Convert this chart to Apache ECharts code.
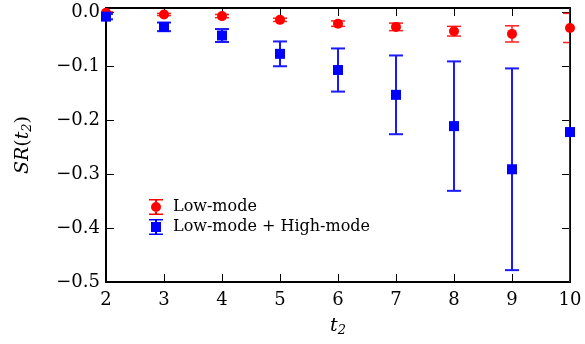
<!DOCTYPE html>
<html>
<head>
<meta charset="utf-8">
<script src="https://cdn.jsdelivr.net/npm/echarts@6/dist/echarts.min.js"></script>
<style>
html,body{margin:0;padding:0;background:#fff;}
#chart{width:585px;height:344px;}
</style>
</head>
<body>
<div id="chart"></div>
<script>
// Data
var tValues = [2, 3, 4, 5, 6, 7, 8, 9, 10];
var lowMode = [-0.001, -0.004, -0.007, -0.014, -0.021, -0.027, -0.035, -0.040, -0.029];
var lowModeErr = [0.002, 0.002, 0.003, 0.003, 0.005, 0.007, 0.009, 0.015, 0.027];
var fullMode = [-0.008, -0.027, -0.043, -0.077, -0.107, -0.153, -0.211, -0.291, -0.222];
var fullModeErr = [0.005, 0.008, 0.012, 0.023, 0.040, 0.073, 0.120, 0.187, 0.35];
var seriesNames = ['Low-mode', 'Low-mode + High-mode'];

var FONT = '"DejaVu Serif", "Liberation Serif", serif';

function pts(vals) { return tValues.map(function (t, i) { return [t, vals[i]]; }); }
function errData(vals, errs) {
  return tValues.map(function (t, i) { return [t, vals[i] - errs[i], vals[i] + errs[i]]; });
}
function errRender(color, lw) {
  return function (params, api) {
    var x = api.value(0);
    var lo = api.coord([x, api.value(1)]);
    var hi = api.coord([x, api.value(2)]);
    var hw = 7;
    var st = { stroke: color, lineWidth: lw };
    return {
      type: 'group',
      children: [
        { type: 'line', shape: { x1: lo[0], y1: lo[1], x2: hi[0], y2: hi[1] }, style: st },
        { type: 'line', shape: { x1: lo[0] - hw, y1: lo[1], x2: lo[0] + hw, y2: lo[1] }, style: st },
        { type: 'line', shape: { x1: hi[0] - hw, y1: hi[1], x2: hi[0] + hw, y2: hi[1] }, style: st }
      ]
    };
  };
}

var redIcon = 'path://M0,0H14V1.5H0Z M0,14.5H14V16H0Z M6,1.5H8V3H6Z M6,13H8V14.5H6Z M2,8A5,5 0 1,1 12,8A5,5 0 1,1 2,8Z';
var blueIcon = 'path://M0,0H14V1.5H0Z M0,14.5H14V16H0Z M6,1.5H8V3H6Z M6,13H8V14.5H6Z M2,3H12V13H2Z';

var axisCommon = {
  axisLine: { show: true, onZero: false, lineStyle: { color: '#000', width: 2 } },
  axisTick: { show: true, inside: true, length: 8, lineStyle: { color: '#000', width: 1 } },
  splitLine: { show: false }
};

var chart = echarts.init(document.getElementById('chart'), null, { renderer: 'canvas' });
chart.setOption({
  animation: false,
  backgroundColor: '#fff',
  grid: { left: 106, right: 15, top: 8, bottom: 62, containLabel: false },
  xAxis: [
    Object.assign({}, axisCommon, {
      type: 'value', min: 2, max: 10, interval: 1, position: 'bottom',
      axisLabel: { color: '#000', fontFamily: FONT, fontSize: 18, margin: 9 },
      name: '{i|t}{s|2}', nameLocation: 'middle', nameGap: 34,
      nameTextStyle: {
        rich: {
          i: { fontFamily: FONT, fontStyle: 'italic', fontSize: 19, color: '#000' },
          s: { fontFamily: FONT, fontStyle: 'italic', fontSize: 13, color: '#000', verticalAlign: 'bottom', padding: [8, 0, 0, 0] }
        }
      }
    }),
    Object.assign({}, axisCommon, {
      type: 'value', min: 2, max: 10, interval: 1, position: 'top',
      axisLabel: { show: false }
    })
  ],
  yAxis: [
    Object.assign({}, axisCommon, {
      type: 'value', min: -0.5, max: 0.008, interval: 0.1, position: 'left',
      axisLabel: {
        color: '#000', fontFamily: FONT, fontSize: 18, margin: 6,
        formatter: function (v) { return (v < -1e-9 ? '\u2212' : '') + Math.abs(v).toFixed(1); }
      },
      name: '{i|SR}{n|(}{i|t}{s|2}{n|)}', nameLocation: 'middle', nameGap: 72, nameRotate: 90,
      nameTextStyle: {
        rich: {
          i: { fontFamily: FONT, fontStyle: 'italic', fontSize: 19, color: '#000' },
          n: { fontFamily: FONT, fontSize: 19, color: '#000' },
          s: { fontFamily: FONT, fontStyle: 'italic', fontSize: 13, color: '#000', verticalAlign: 'bottom', padding: [8, 0, 0, 0] }
        }
      }
    }),
    Object.assign({}, axisCommon, {
      type: 'value', min: -0.5, max: 0.008, interval: 0.1, position: 'right',
      axisLabel: { show: false }
    })
  ],
  legend: {
    left: 144, top: 194, orient: 'vertical', itemWidth: 14, itemHeight: 16, itemGap: 4,
    textStyle: { fontFamily: FONT, fontSize: 16, color: '#000', padding: [0, 0, 0, 5] },
    data: [
      { name: seriesNames[0], icon: redIcon, itemStyle: { color: '#ff0000' } },
      { name: seriesNames[1], icon: blueIcon, itemStyle: { color: '#0000ff' } }
    ]
  },
  series: [
    {
      name: seriesNames[0], type: 'custom', clip: true, xAxisIndex: 0, yAxisIndex: 0,
      data: errData(lowMode, lowModeErr), renderItem: errRender('#ff2020', 1.5),
      itemStyle: { color: '#ff0000' }, z: 2
    },
    {
      name: seriesNames[0], type: 'scatter', clip: true, symbol: 'circle', symbolSize: 10,
      data: pts(lowMode), itemStyle: { color: '#ff0000', opacity: 1 }, z: 3
    },
    {
      name: seriesNames[1], type: 'custom', clip: true,
      data: errData(fullMode, fullModeErr), renderItem: errRender('#1a1aff', 2),
      itemStyle: { color: '#0000ff' }, z: 4
    },
    {
      name: seriesNames[1], type: 'scatter', clip: true, symbol: 'rect', symbolSize: 10,
      data: pts(fullMode), itemStyle: { color: '#0000ff', opacity: 1 }, z: 5
    }
  ]
});
</script>
</body>
</html>
